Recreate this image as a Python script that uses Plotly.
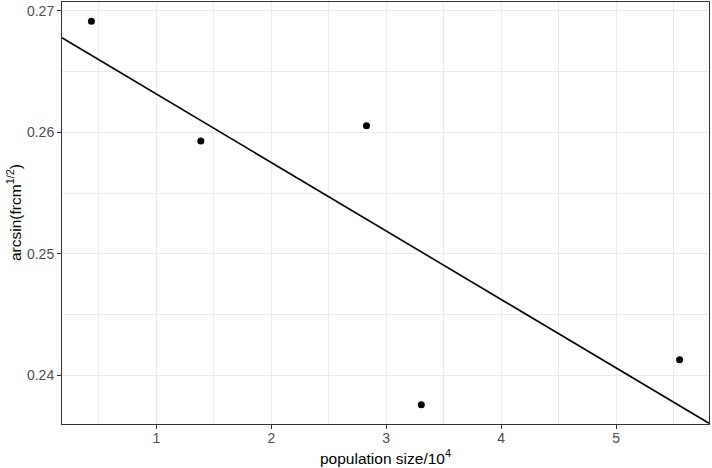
import numpy as np
import plotly.graph_objects as go

# population size (x 10^4) and arcsin(frcm^1/2)
pop_size = [0.435, 1.387, 2.828, 3.305, 5.552]
arcsin_frcm = [0.26915, 0.25929, 0.26054, 0.23759, 0.24129]

x_ticks = [1, 2, 3, 4, 5]
y_ticks = [0.24, 0.25, 0.26, 0.27]

FONT = "Liberation Sans, Arial, sans-serif"

# ggplot-like 5% expansion of data range
def expand(vals, mult=0.05):
    lo, hi = min(vals), max(vals)
    pad = (hi - lo) * mult
    return [lo - pad, hi + pad]

x_range = expand(pop_size)
y_range = expand(arcsin_frcm)

# linear fit, drawn across the full panel
slope, intercept = np.polyfit(pop_size, arcsin_frcm, 1)
fit_x = np.array(x_range)
fit_y = intercept + slope * fit_x

fig = go.Figure()

fig.add_trace(
    go.Scatter(
        x=fit_x,
        y=fit_y,
        mode="lines",
        line=dict(color="black", width=1.6),
        showlegend=False,
        hoverinfo="skip",
    )
)

fig.add_trace(
    go.Scatter(
        x=pop_size,
        y=arcsin_frcm,
        mode="markers",
        marker=dict(color="black", size=7),
        showlegend=False,
    )
)

axis_common = dict(
    automargin=False,
    showgrid=True,
    gridcolor="#EBEBEB",
    gridwidth=1.1,
    zeroline=False,
    showline=True,
    linecolor="#333333",
    linewidth=1,
    mirror=True,
    ticks="outside",
    ticklen=4,
    tickwidth=1,
    tickcolor="#333333",
    tickfont=dict(family=FONT, size=14, color="#4D4D4D"),
)

fig.update_xaxes(
    range=x_range,
    tickvals=x_ticks,
    ticktext=[str(v) for v in x_ticks],
    ticklabelstandoff=-3,
    minor=dict(dtick=0.5, tick0=0, showgrid=True, gridcolor="#EBEBEB", gridwidth=0.6, ticks=""),
    **axis_common,
)
fig.update_yaxes(
    range=y_range,
    tickvals=y_ticks,
    ticktext=[f"{v:.2f}" for v in y_ticks],
    minor=dict(dtick=0.005, tick0=0.235, showgrid=True, gridcolor="#EBEBEB", gridwidth=0.6, ticks=""),
    **axis_common,
)

# axis titles placed like ggplot's
fig.add_annotation(
    text="population size/10<sup>4</sup>",
    xref="paper", yref="paper", x=0.5, y=0, yshift=-21,
    xanchor="center", yanchor="top", showarrow=False,
    font=dict(family=FONT, size=15.5, color="black"),
)
fig.add_annotation(
    text="arcsin(frcm<sup>1/2</sup>)",
    xref="paper", yref="paper", x=0, y=0.5, xshift=-36,
    xanchor="right", yanchor="middle", textangle=-90, showarrow=False,
    font=dict(family=FONT, size=15.5, color="black"),
)

fig.update_layout(
    width=712,
    height=468,
    plot_bgcolor="white",
    paper_bgcolor="white",
    margin=dict(l=62, r=3, t=2, b=44, autoexpand=False),
    font=dict(family=FONT),
)

# drop the default page margin so the figure sits at the window's corner
fig.write_html(
    "out.html",
    config={"displayModeBar": False},
    post_script="document.body.style.margin='0';",
)
